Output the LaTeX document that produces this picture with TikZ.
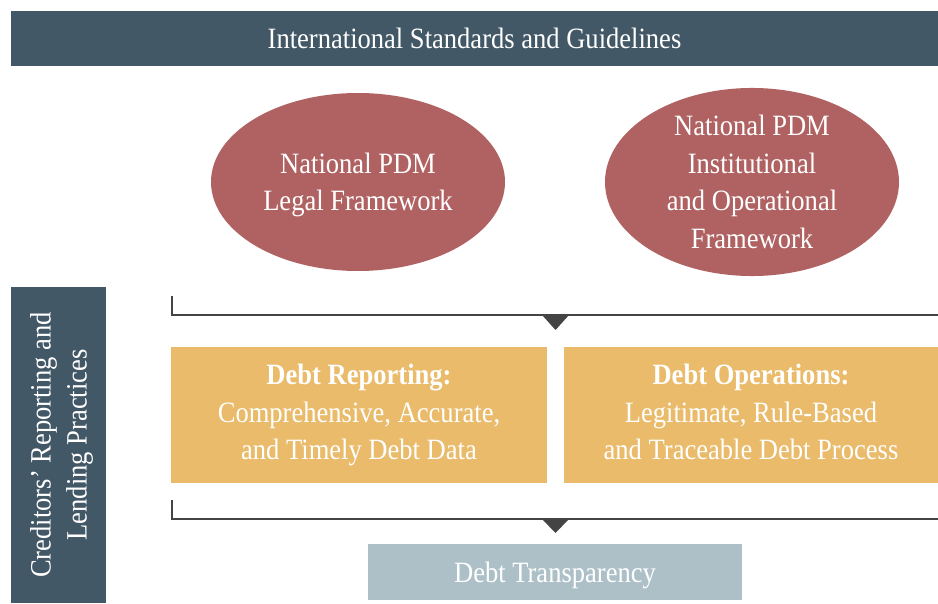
\documentclass[tikz,border=0pt]{standalone}
\usepackage{fontspec}
\setmainfont{Liberation Serif}[FakeStretch=0.9]
\usetikzlibrary{shapes.geometric}

\definecolor{slate}{HTML}{435866}
\definecolor{rose}{HTML}{B06262}
\definecolor{gold}{HTML}{E9BB6A}
\definecolor{mist}{HTML}{ADC0C8}
\definecolor{ink}{HTML}{444444}

\begin{document}
\begin{tikzpicture}[x=1pt, y=-1pt,
    bannerbox/.style={rectangle, fill=slate, text=white, inner sep=0pt,
        font=\fontsize{29.5}{36}\selectfont},
    pdm/.style={ellipse, fill=rose, text=white, inner sep=0pt, align=center,
        text depth=0pt, minimum width=294, minimum height=178,
        font=\fontsize{29.5}{37.5}\selectfont},
    pillar/.style={rectangle, fill=gold, text=white, inner sep=0pt, align=center,
        text depth=6pt, minimum height=136, font=\fontsize{29.5}{37.5}\selectfont},
    bracket/.style={draw=ink, line width=1.4pt},
    downtip/.style={fill=ink}]
    \useasboundingbox (0,0) rectangle (938,604);
    % top banner
    \node[bannerbox, minimum width=927, minimum height=55] (intl) at (474.5,38.5)
        {International Standards and Guidelines};
    % national frameworks
    \node[pdm] (legal) at (358,182) {National PDM\\Legal Framework};
    \node[pdm] (inst) at (752,182) {National PDM\\Institutional\\and Operational\\Framework};
    % side bar
    \node[bannerbox, rotate=90, align=center, text depth=0pt, minimum width=316,
        minimum height=95] (cred) at (58.5,445)
        {Creditors’ Reporting and\\Lending Practices};
    % first bracket
    \coordinate (top1) at (172,296);
    \coordinate (end1) at (938,315);
    \draw[bracket] (top1) |- (end1);
    \fill[downtip] (542,315) -- (569,315) -- (555.5,330) -- cycle;
    % pillars
    \node[pillar, minimum width=376] (report) at (359,415)
        {\textbf{Debt Reporting:}\\Comprehensive, Accurate,\\and Timely Debt Data};
    \node[pillar, minimum width=374] (ops) at (751,415)
        {\textbf{Debt Operations:}\\Legitimate, Rule-Based\\and Traceable Debt Process};
    % second bracket
    \coordinate (top2) at (172,500);
    \coordinate (end2) at (938,519);
    \draw[bracket] (top2) |- (end2);
    \fill[downtip] (542,519) -- (569,519) -- (555.5,533) -- cycle;
    % outcome
    \node[rectangle, fill=mist, text=white, inner sep=0pt, text depth=0pt,
        minimum width=374, minimum height=56,
        font=\fontsize{29.5}{37.5}\selectfont] (transp) at (555,572)
        {Debt Transparency};
\end{tikzpicture}
\end{document}
